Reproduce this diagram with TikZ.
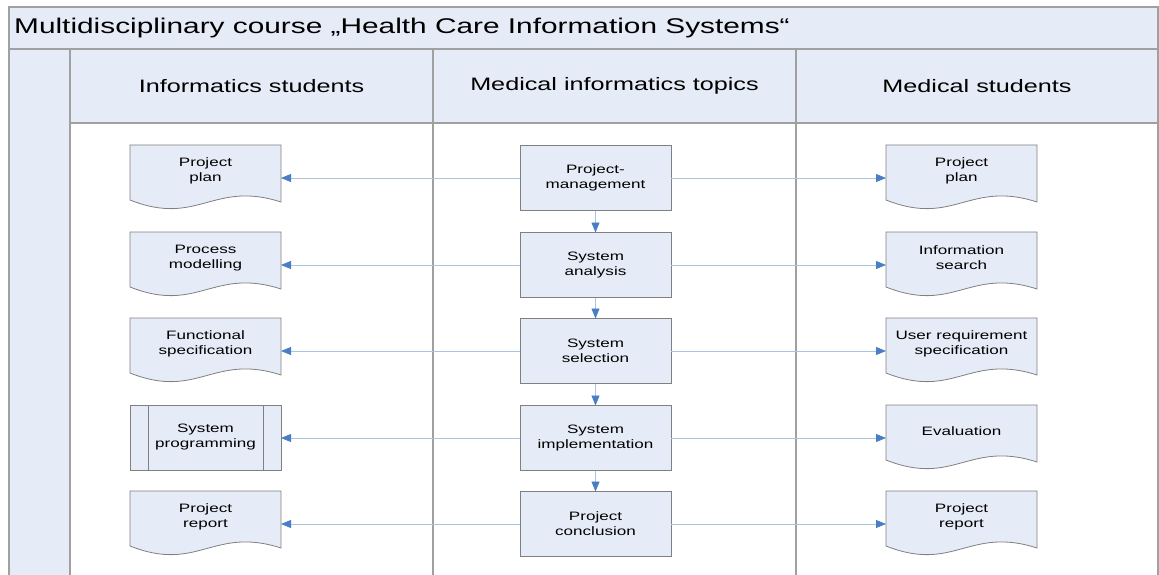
\documentclass[tikz,border=0pt]{standalone}
\usepackage{fontspec}
\setmainfont{Liberation Sans}[FakeStretch=1.4]
\usetikzlibrary{arrows.meta}
\definecolor{paleblue}{RGB}{230,236,247}
\definecolor{framegray}{RGB}{160,160,160}
\definecolor{boxgray}{RGB}{128,128,128}
\definecolor{linkline}{RGB}{170,197,224}
\definecolor{tipblue}{RGB}{74,126,196}
\newcommand\boxfont{\fontsize{12.2}{15}\selectfont}
\tikzset{
  frame/.style={draw=framegray, line width=1.4pt},
  shapearea/.style={minimum width=151pt, minimum height=65pt, inner sep=0pt, outer sep=0pt},
  stepbox/.style={shapearea, draw=boxgray, fill=paleblue, line width=0.8pt,
    align=center, font=\boxfont},
  doctext/.style={align=center, font=\boxfont, inner sep=0pt},
  docline/.style={draw=boxgray, fill=paleblue, line width=0.8pt},
  link/.style={draw=linkline, line width=0.8pt,
    -{Triangle[length=10pt, width=8pt, color=tipblue, fill=tipblue]}},
}
% document symbol: rectangle with a wavy lower edge, text in its upper part
\newcommand\docsym[3]{%
  \node[shapearea] (#1) at (#2) {};
  \begin{scope}[shift={(#1.north west)}]
    \path[docline] (0,0) -- (151,0) -- (151,57) .. controls (83,35) and (68,82) .. (0,55) -- cycle;
  \end{scope}
  \node[doctext] (#1t) at ([yshift=-26pt]#1.north) {#3};
}
\begin{document}
\begin{tikzpicture}[x=1pt, y=-1pt]
\useasboundingbox (0,0) rectangle (1159,575);
% pool and lanes
\fill[paleblue] (9,7) rectangle (1158,49);
\fill[paleblue] (9,49) rectangle (70,575);
\fill[paleblue] (70,49) rectangle (1158,123);
\draw[frame] (9,575) -- (9,7) -- (1158,7) -- (1158,575);
\draw[frame] (9,49) -- (1158,49);
\draw[frame] (70,123) -- (1158,123);
\draw[frame] (70,49) -- (70,575);
\draw[frame] (433,49) -- (433,575);
\draw[frame] (796,49) -- (796,575);
\node[anchor=west, inner sep=0pt, font=\fontsize{21.3}{24}\selectfont] (title) at (14,28)
  {Multidisciplinary course „Health Care Information Systems“};
\node[font=\fontsize{18}{21}\selectfont, inner sep=0pt] (h1) at (251.5,86) {Informatics students};
\node[font=\fontsize{18}{21}\selectfont, inner sep=0pt] (h2) at (614.5,86) {Medical informatics topics};
\node[font=\fontsize{18}{21}\selectfont, inner sep=0pt] (h3) at (977,86) {Medical students};

% middle lane: process steps
\node[stepbox] (m1) at (595.5,178) {Project-\\management};
\node[stepbox] (m2) at (595.5,265) {System\\analysis};
\node[stepbox] (m3) at (595.5,351) {System\\selection};
\node[stepbox] (m4) at (595.5,438) {System\\implementation};
\node[stepbox] (m5) at (595.5,524) {Project\\conclusion};

% left lane
\docsym{l1}{205.5,177.5}{Project\\plan}
\docsym{l2}{205.5,264.5}{Process\\modelling}
\docsym{l3}{205.5,350.5}{Functional\\specification}
\node[stepbox] (l4) at (205.5,437.5) {System\\programming};
\draw[draw=boxgray, line width=0.8pt] ([xshift=18pt]l4.north west) -- ([xshift=18pt]l4.south west)
  ([xshift=-18pt]l4.north east) -- ([xshift=-18pt]l4.south east);
\docsym{l5}{205.5,523.5}{Project\\report}

% right lane
\docsym{r1}{961.5,177.5}{Project\\plan}
\docsym{r2}{961.5,264.5}{Information\\search}
\docsym{r3}{961.5,350.5}{User requirement\\specification}
\docsym{r4}{961.5,437.5}{Evaluation}
\docsym{r5}{961.5,523.5}{Project\\report}

% connectors
\foreach \i in {1,...,5} {
  \draw[link] (m\i.west) -- (m\i.west -| l\i.east);
  \draw[link] (m\i.east) -- (m\i.east -| r\i.west);
}
\foreach \i/\j in {1/2,2/3,3/4,4/5}
  \draw[link] (m\i.south) -- (m\j.north);
\end{tikzpicture}
\end{document}
